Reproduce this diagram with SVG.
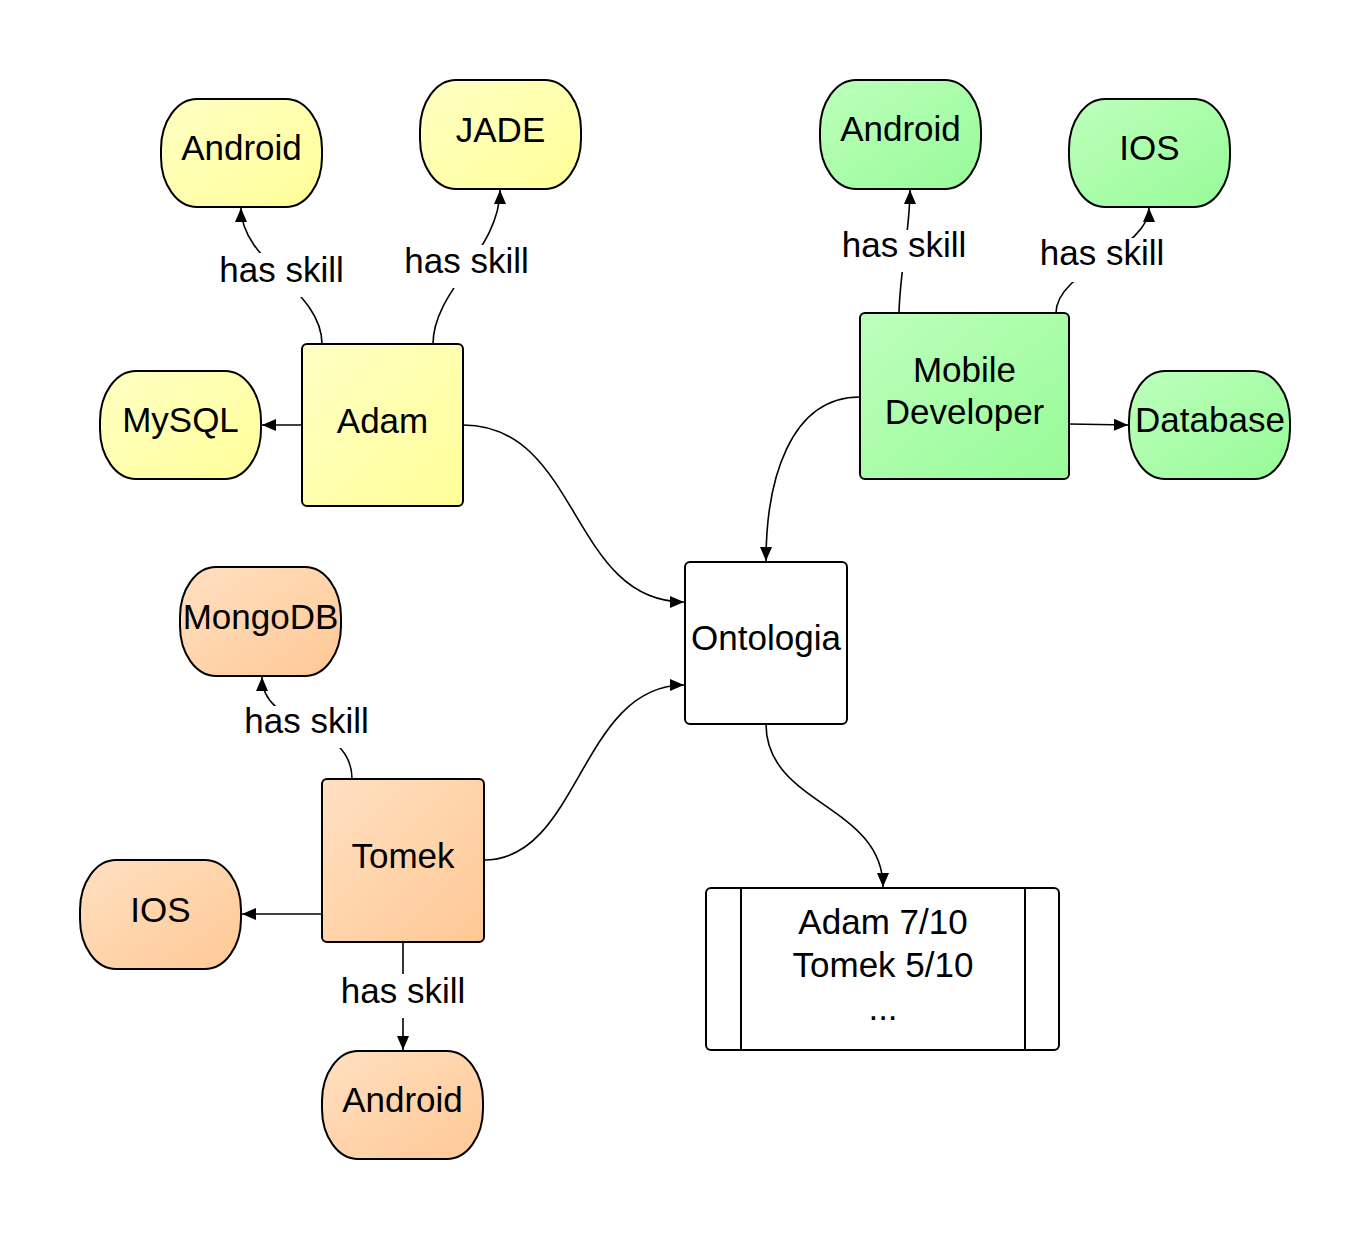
<svg xmlns="http://www.w3.org/2000/svg" width="1369" height="1243" viewBox="0 0 1369 1243">
<defs>
<linearGradient id="gy" x1="0" y1="0" x2="1" y2="1"><stop offset="0" stop-color="#ffffc4"/><stop offset="1" stop-color="#ffff99"/></linearGradient>
<linearGradient id="gg" x1="0" y1="0" x2="1" y2="1"><stop offset="0" stop-color="#bdffbd"/><stop offset="1" stop-color="#97fb97"/></linearGradient>
<linearGradient id="go" x1="0" y1="0" x2="1" y2="1"><stop offset="0" stop-color="#ffe0c2"/><stop offset="1" stop-color="#ffc894"/></linearGradient>
<marker id="ah" markerUnits="userSpaceOnUse" markerWidth="16" markerHeight="12" refX="14" refY="6" orient="auto"><path d="M0,0 L14,6 L0,12 z" fill="#000"/></marker>
<style>
.n{stroke:#000;stroke-width:2}
.y{fill:url(#gy)}.g{fill:url(#gg)}.o{fill:url(#go)}.w{fill:#fff}
text{font-family:"Liberation Sans",Arial,sans-serif;font-size:35px;fill:#000;text-anchor:middle}
.c{fill:none;stroke:#000;stroke-width:1.6}
.a{marker-end:url(#ah)}
.lb{fill:#fff}
</style>
</defs>
<rect width="1369" height="1243" fill="#fff"/>
<g id="nodes">
<g id="adam"><rect class="n y" x="302" y="344" width="161" height="162" rx="5"/><text x="382.5" y="433">Adam</text></g>
<g id="android-y"><rect class="n y" x="161" y="99" width="161" height="108" rx="36" ry="50"/><text x="241.5" y="160">Android</text></g>
<g id="jade"><rect class="n y" x="420" y="80" width="161" height="109" rx="36" ry="50"/><text x="500.5" y="142">JADE</text></g>
<g id="mysql"><rect class="n y" x="100" y="371" width="161" height="108" rx="36" ry="50"/><text x="180.5" y="432">MySQL</text></g>
<g id="mobile"><rect class="n g" x="860" y="313" width="209" height="166" rx="5"/><text x="964.5" y="382">Mobile</text><text x="964.5" y="424">Developer</text></g>
<g id="android-g"><rect class="n g" x="820" y="80" width="161" height="109" rx="36" ry="50"/><text x="900.5" y="141">Android</text></g>
<g id="ios-g"><rect class="n g" x="1069" y="99" width="161" height="108" rx="36" ry="50"/><text x="1149.5" y="160">IOS</text></g>
<g id="database"><rect class="n g" x="1129" y="371" width="161" height="108" rx="36" ry="50"/><text x="1210" y="432">Database</text></g>
<g id="ontologia"><rect class="n w" x="685" y="562" width="162" height="162" rx="5"/><text x="766" y="650">Ontologia</text></g>
<g id="result"><rect class="n w" x="706" y="888" width="353" height="162" rx="5"/><line class="n" x1="741" y1="888" x2="741" y2="1050"/><line class="n" x1="1025" y1="888" x2="1025" y2="1050"/><text x="883" y="934">Adam 7/10</text><text x="883" y="977">Tomek 5/10</text><text x="883" y="1020">...</text></g>
<g id="tomek"><rect class="n o" x="322" y="779" width="162" height="163" rx="5"/><text x="403" y="868">Tomek</text></g>
<g id="mongodb"><rect class="n o" x="180" y="567" width="161" height="109" rx="36" ry="50"/><text x="260.5" y="629">MongoDB</text></g>
<g id="ios-o"><rect class="n o" x="80" y="860" width="161" height="109" rx="36" ry="50"/><text x="160.5" y="922">IOS</text></g>
<g id="android-o"><rect class="n o" x="322" y="1051" width="161" height="108" rx="36" ry="50"/><text x="402.5" y="1112">Android</text></g>
</g>
<g id="connectors">
<path class="c a" d="M322,344 C322,290 241,262 241,208"/>
<path class="c a" d="M433,344 C433,290 500,250 500,190"/>
<path class="c a" d="M302,425 L262,425"/>
<path class="c a" d="M463,425 C580,425 570,602 684,602"/>
<path class="c a" d="M899,313 C900,270 910,230 910,190"/>
<path class="c a" d="M1056,313 C1056,270 1149,250 1149,208"/>
<path class="c a" d="M1069,424 L1128,425"/>
<path class="c a" d="M860,397 C790,397 766,480 766,561"/>
<path class="c a" d="M484,860 C580,860 580,685 684,685"/>
<path class="c a" d="M766,724 C766,805 883,805 883,887"/>
<path class="c a" d="M322,914 L242,914"/>
<path class="c a" d="M403,942 L403,1050"/>
<path class="c a" d="M352,779 C352,720 262,730 262,677"/>
<rect class="lb" x="216" y="253" width="131" height="44"/><text x="281.5" y="282">has skill</text>
<rect class="lb" x="401" y="245" width="131" height="43"/><text x="466.5" y="273">has skill</text>
<rect class="lb" x="838" y="230" width="132" height="42"/><text x="904" y="257">has skill</text>
<rect class="lb" x="1036" y="238" width="132" height="44"/><text x="1102" y="265">has skill</text>
<rect class="lb" x="241" y="706" width="131" height="42"/><text x="306.5" y="733">has skill</text>
<rect class="lb" x="338" y="974" width="130" height="44"/><text x="403" y="1003">has skill</text>
</g>
</svg>
